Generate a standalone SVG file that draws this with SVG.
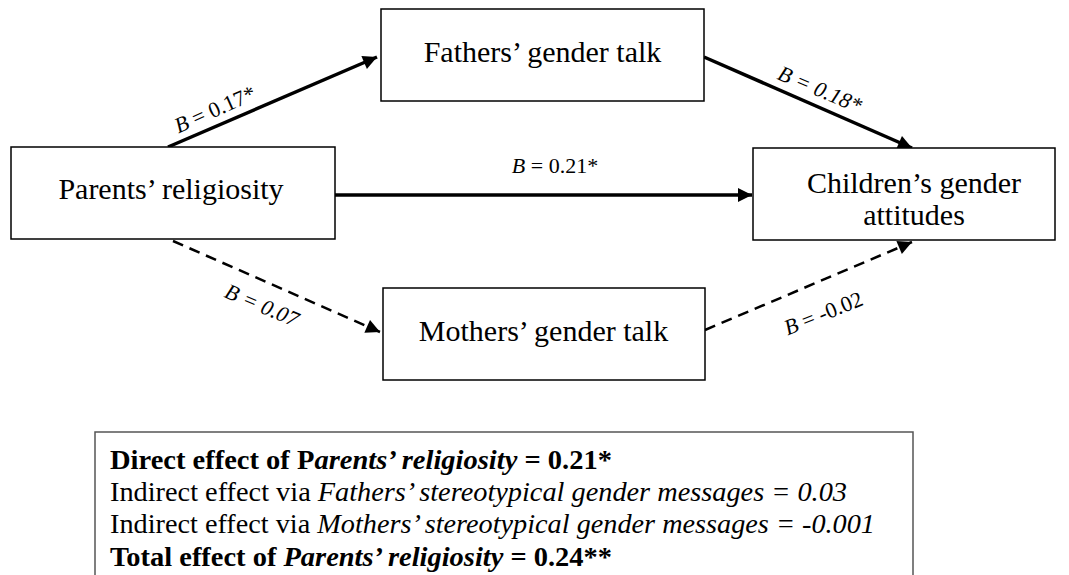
<svg xmlns="http://www.w3.org/2000/svg" width="1069" height="575" viewBox="0 0 1069 575">
<style>
.node{fill:#fff;stroke:#000;stroke-width:1.5}
.nt{font-family:"Liberation Serif","Times New Roman",serif;font-size:30px;fill:#000;text-anchor:middle}
.lb{font-family:"Liberation Serif","Times New Roman",serif;font-size:22px;fill:#000;text-anchor:middle}
.solid{stroke:#000;stroke-width:3.5;fill:none}
.dash{stroke:#000;stroke-width:2.5;fill:none;stroke-dasharray:11 7}
.bt{font-family:"Liberation Serif","Times New Roman",serif;font-size:27px;fill:#000}
</style>
<defs>
<marker id="ah" viewBox="0 0 10 10" refX="10" refY="5" markerWidth="16" markerHeight="14" markerUnits="userSpaceOnUse" orient="auto">
<path d="M0,0 L10,5 L0,10 z" fill="#000"/>
</marker>
</defs>
<rect width="1069" height="575" fill="#fff"/>
<g id="connectors">
<line class="solid" x1="168" y1="147" x2="377" y2="57" marker-end="url(#ah)"/>
<line class="solid" x1="704" y1="57" x2="912" y2="148" marker-end="url(#ah)"/>
<line class="solid" x1="335" y1="195" x2="752" y2="195" marker-end="url(#ah)"/>
<line class="dash" x1="173" y1="241" x2="380" y2="332" marker-end="url(#ah)"/>
<line class="dash" x1="705" y1="330" x2="912" y2="242" marker-end="url(#ah)"/>
<text class="lb" transform="translate(218,116) rotate(-24)"><tspan font-style="italic">B</tspan> = 0.17*</text>
<text class="lb" transform="translate(817,96) rotate(23)" font-style="italic">B = 0.18*</text>
<text class="lb" x="555" y="173"><tspan font-style="italic">B</tspan> = 0.21*</text>
<text class="lb" transform="translate(259,312) rotate(23)" font-style="italic">B = 0.07</text>
<text class="lb" transform="translate(826,320) rotate(-22)"><tspan font-style="italic">B</tspan> = -0.02</text>
</g>
<g id="parents">
<rect class="node" x="11" y="147" width="324" height="92"/>
<text class="nt" x="171" y="199">Parents’ religiosity</text>
</g>
<g id="fathers">
<rect class="node" x="381" y="9" width="323" height="92"/>
<text class="nt" x="542.5" y="62">Fathers’ gender talk</text>
</g>
<g id="mothers">
<rect class="node" x="383" y="288" width="322" height="92"/>
<text class="nt" x="543.5" y="341">Mothers’ gender talk</text>
</g>
<g id="children">
<rect class="node" x="753" y="148" width="302" height="92"/>
<text class="nt" x="914" y="193">Children’s gender</text>
<text class="nt" x="914" y="225">attitudes</text>
</g>
<g id="summary">
<path d="M95,590 V432 H913 V590" fill="#fff" stroke="#555" stroke-width="1.5"/>
<text class="bt" x="110" y="469" font-weight="bold" textLength="502" lengthAdjust="spacingAndGlyphs">Direct effect of P<tspan font-style="italic">arents’ religiosity</tspan> = 0.21*</text>
<text class="bt" x="110" y="501" textLength="737" lengthAdjust="spacingAndGlyphs">Indirect effect via <tspan font-style="italic">Fathers’ stereotypical gender messages = 0.03</tspan></text>
<text class="bt" x="110" y="533" textLength="765" lengthAdjust="spacingAndGlyphs">Indirect effect via <tspan font-style="italic">Mothers’ stereotypical gender messages = -0.001</tspan></text>
<text class="bt" x="110" y="566" font-weight="bold" textLength="502" lengthAdjust="spacingAndGlyphs">Total effect of <tspan font-style="italic">Parents’ religiosity</tspan> = 0.24**</text>
</g>
</svg>
